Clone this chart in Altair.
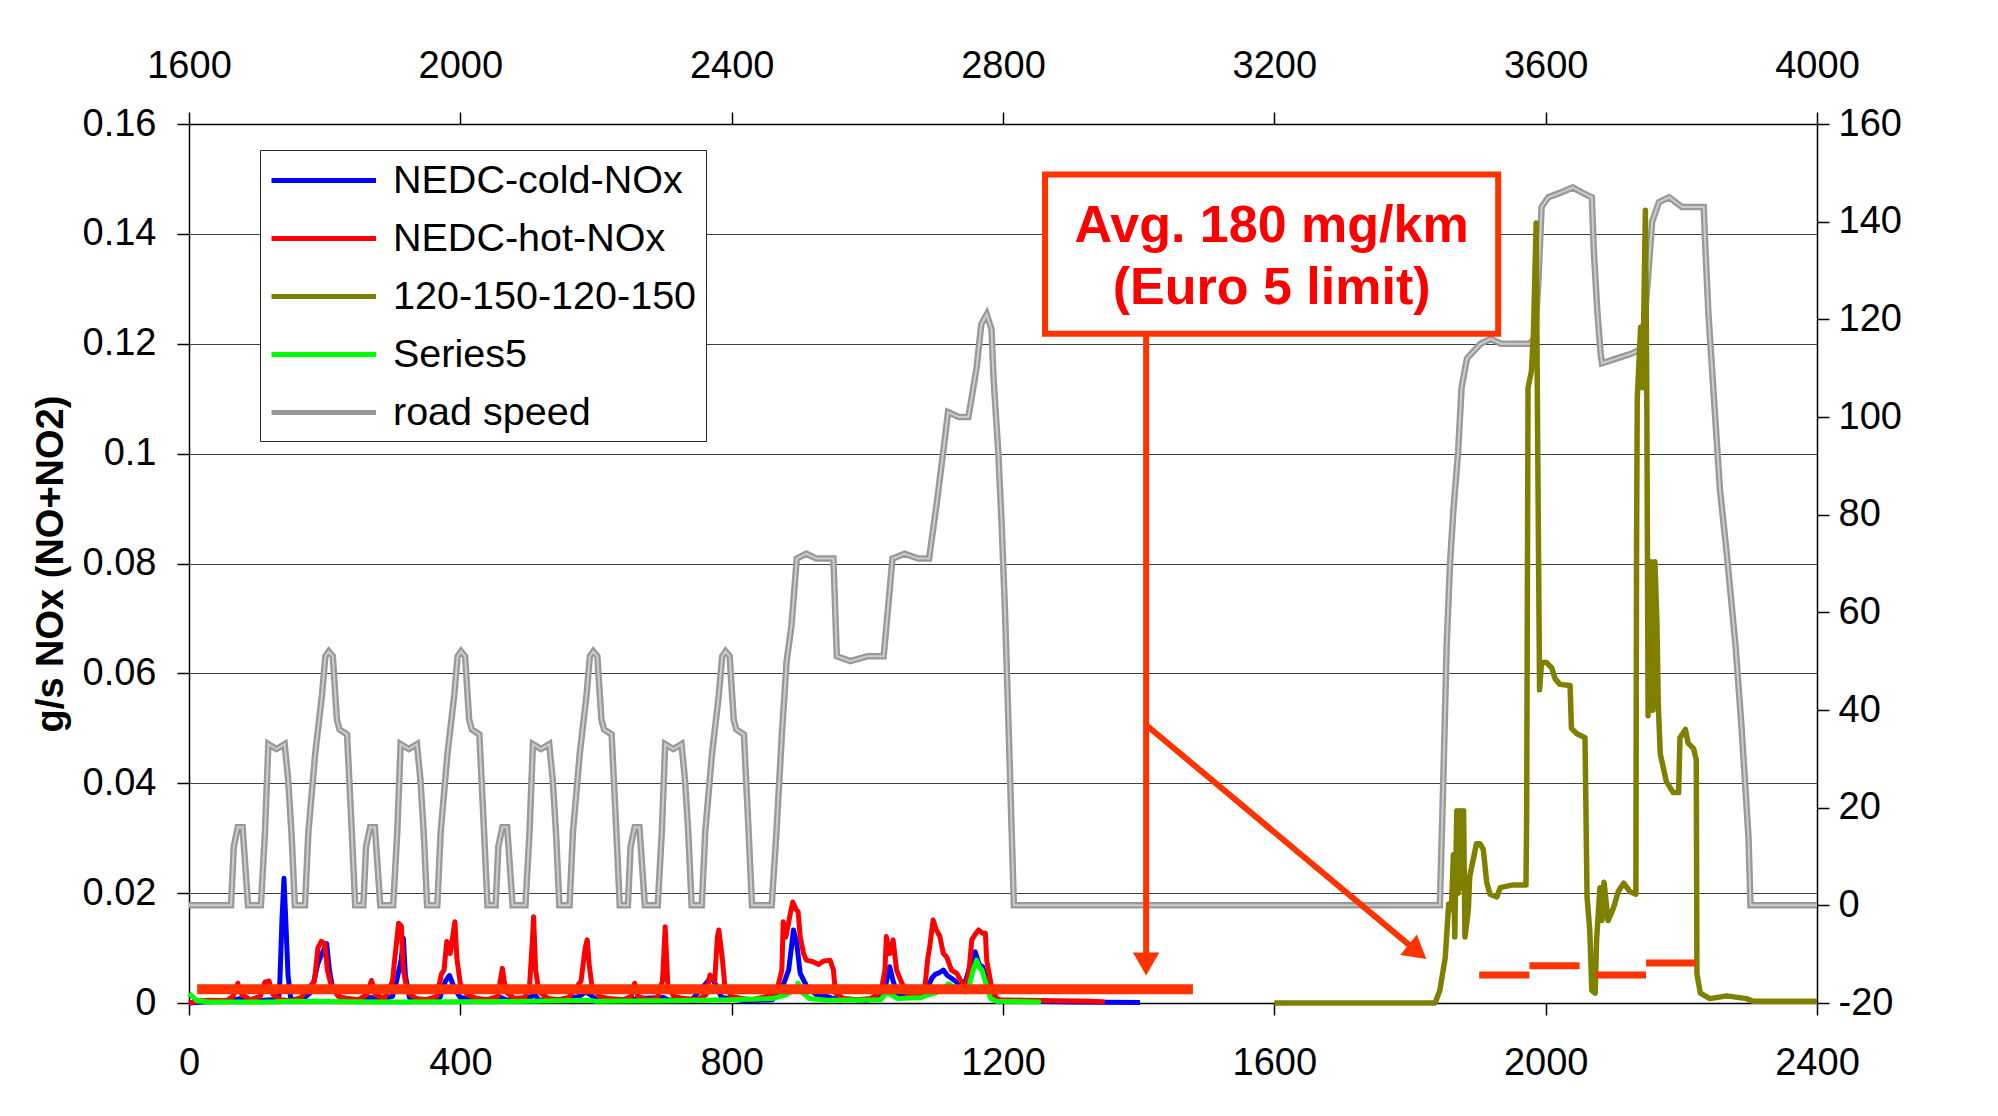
import altair as alt
import pandas as pd

FONT = "Liberation Sans"

# ---------------- series / legend ----------------
series_names = ["NEDC-cold-NOx", "NEDC-hot-NOx", "120-150-120-150", "Series5", "road speed"]
series_colors = ["#0000ff", "#ff0000", "#808000", "#00ff00", "#999999"]
series_widths = [5, 5, 5.5, 5]

# ---------------- axes ----------------
x_ticks = [0, 400, 800, 1200, 1600, 2000, 2400]
top_offset = 1600
nox_ticks = [0, 0.02, 0.04, 0.06, 0.08, 0.1, 0.12, 0.14, 0.16]
speed_ticks = [-20, 0, 20, 40, 60, 80, 100, 120, 140, 160]

# ---------------- road speed (km/h, right axis) ----------------
speed_x = ([0, 62, 66, 72, 79, 83, 87, 106, 112, 117, 129, 141, 146, 151, 156, 171, 176, 186, 196, 201, 206, 212, 218, 222, 233, 239, 245]
           + [257, 261, 267, 274, 278, 282, 301, 307, 312, 324, 336, 341, 346, 351, 366, 371, 381, 391, 396, 401, 407, 413, 417, 428, 434, 440]
           + [452, 456, 462, 469, 473, 477, 496, 502, 507, 519, 531, 536, 541, 546, 561, 566, 576, 586, 591, 596, 602, 608, 612, 623, 629, 635]
           + [647, 651, 657, 664, 668, 672, 691, 697, 702, 714, 726, 731, 736, 741, 756, 761, 771, 781, 786, 791, 797, 803, 807, 818, 824, 830]
           + [859, 866, 874, 881, 888, 896, 910, 925, 950, 955, 975, 1000, 1024, 1030, 1037, 1055, 1075, 1091, 1102, 1112, 1119, 1135, 1149,
              1161, 1168, 1176, 1183, 1186, 1193, 1198, 1203, 1209, 1216]
           + [1844, 1849, 1854, 1859, 1864, 1871, 1876, 1884, 1904, 1919, 1934, 1955, 1976, 1984, 1989, 1994, 2004, 2023, 2040, 2053, 2068,
              2071, 2076, 2081, 2083, 2105, 2127, 2142, 2150, 2157, 2167, 2182, 2201, 2233, 2235, 2240, 2248, 2257, 2267, 2280, 2289, 2299,
              2302, 2400])
speed_kmh = ([0, 0, 12, 16, 16, 8, 0, 0, 15, 33, 32, 33, 26, 15, 0, 0, 15, 31, 43, 51, 52, 51, 38, 36, 35, 18, 0]
             + [0, 12, 16, 16, 8, 0, 0, 15, 33, 32, 33, 26, 15, 0, 0, 15, 31, 43, 51, 52, 51, 38, 36, 35, 18, 0]
             + [0, 12, 16, 16, 8, 0, 0, 15, 33, 32, 33, 26, 15, 0, 0, 15, 31, 43, 51, 52, 51, 38, 36, 35, 18, 0]
             + [0, 12, 16, 16, 8, 0, 0, 15, 33, 32, 33, 26, 15, 0, 0, 15, 31, 43, 51, 52, 51, 38, 36, 35, 18, 0]
             + [0, 15, 35, 50, 57, 71, 72, 71, 71, 51, 50, 51, 51, 60, 71, 72, 71, 71, 82, 93, 101, 100, 100,
                110, 119, 121, 118, 108, 93, 78, 60, 33, 0]
             + [0, 25, 53, 70, 81, 93, 106, 112, 115, 116, 115, 115, 115, 116, 127, 143, 145, 146, 147, 146, 145,
                134, 122, 113, 111, 112, 113, 114, 127, 140, 144, 145, 143, 143, 136, 121, 104, 85, 72, 53, 36, 14,
                0, 0])

# ---------------- NOx (g/s, left axis) ----------------
cold_pts = [(0, 0), (20, 0.0002), (60, 0.0004), (75, 0.0008), (100, 0.0004), (120, 0.0006), (132, 0.0004),
            (134, 0.004), (137, 0.015), (140, 0.0227), (143, 0.014), (146, 0.005), (150, 0.0008), (165, 0.0004),
            (180, 0.002), (186, 0.005), (190, 0.0072), (196, 0.009), (203, 0.0108), (207, 0.006), (212, 0.0025),
            (225, 0.0008), (250, 0.0004), (268, 0.001), (280, 0.0006), (300, 0.0012), (306, 0.004), (313, 0.008),
            (316, 0.0118), (319, 0.005), (325, 0.001), (345, 0.0004), (370, 0.001), (378, 0.004), (384, 0.005),
            (392, 0.0025), (400, 0.001), (430, 0.0004), (460, 0.001), (468, 0.0006), (490, 0.0004), (505, 0.0012),
            (510, 0.0015), (515, 0.0006), (545, 0.0004), (575, 0.0012), (585, 0.002), (592, 0.0015), (600, 0.0006),
            (640, 0.0004), (660, 0.0008), (700, 0.001), (705, 0.0006), (740, 0.0004), (765, 0.004), (770, 0.0048),
            (778, 0.003), (785, 0.001), (820, 0.0004), (860, 0.0006), (875, 0.003), (884, 0.006), (888, 0.01),
            (891, 0.0133), (896, 0.0108), (901, 0.0054), (911, 0.003), (925, 0.0015), (940, 0.0012), (950, 0.0008),
            (1000, 0.0005), (1025, 0.002), (1030, 0.005), (1033, 0.0066), (1038, 0.004), (1045, 0.0015),
            (1060, 0.001), (1080, 0.0012), (1090, 0.003), (1095, 0.0045), (1100, 0.0052), (1106, 0.0055),
            (1112, 0.006), (1118, 0.005), (1124, 0.0045), (1135, 0.0035), (1145, 0.004), (1152, 0.007),
            (1159, 0.0093), (1165, 0.007), (1170, 0.0066), (1176, 0.004), (1185, 0.001), (1200, 0.0004),
            (1300, 0.0002), (1402, 0.0001)]

hot_pts = [(0, 0), (10, 0.0003), (30, 0.0005), (55, 0.0004), (65, 0.0012), (72, 0.0036), (78, 0.0015), (90, 0.0006),
           (105, 0.0012), (112, 0.0038), (118, 0.004), (124, 0.0015), (135, 0.0006), (150, 0.0004), (165, 0.001),
           (178, 0.003), (185, 0.004), (190, 0.01), (195, 0.0112), (200, 0.0108), (204, 0.006), (210, 0.003),
           (220, 0.0012), (235, 0.0008), (250, 0.0006), (262, 0.0015), (269, 0.0041), (275, 0.0015), (288, 0.0008),
           (300, 0.004), (303, 0.0077), (309, 0.0145), (313, 0.014), (316, 0.006), (322, 0.002), (335, 0.0008),
           (350, 0.0006), (365, 0.0012), (372, 0.0052), (376, 0.006), (380, 0.0112), (385, 0.009), (392, 0.0148),
           (395, 0.008), (400, 0.0035), (410, 0.0015), (425, 0.0008), (440, 0.0006), (455, 0.0012), (462, 0.0063),
           (467, 0.002), (480, 0.0008), (495, 0.001), (502, 0.003), (506, 0.011), (508, 0.0157), (511, 0.006),
           (516, 0.002), (530, 0.0008), (545, 0.0006), (560, 0.001), (572, 0.003), (578, 0.004), (584, 0.01),
           (587, 0.0115), (590, 0.007), (594, 0.003), (605, 0.0012), (620, 0.0008), (640, 0.0006), (652, 0.0012),
           (657, 0.0036), (662, 0.0012), (675, 0.0006), (690, 0.0008), (698, 0.004), (702, 0.0139), (706, 0.003),
           (715, 0.0012), (730, 0.0008), (750, 0.0006), (762, 0.0015), (768, 0.0051), (775, 0.004), (779, 0.012),
           (781, 0.0133), (786, 0.0084), (790, 0.003), (800, 0.0012), (815, 0.0008), (830, 0.0006), (845, 0.001),
           (860, 0.0015), (868, 0.003), (874, 0.006), (876, 0.0148), (880, 0.012), (886, 0.016), (890, 0.0184),
           (895, 0.017), (898, 0.0166), (901, 0.0121), (906, 0.009), (910, 0.0078), (920, 0.0075), (928, 0.007),
           (935, 0.0076), (945, 0.0078), (950, 0.006), (953, 0.0018), (965, 0.0008), (985, 0.0006), (1005, 0.0008),
           (1020, 0.002), (1026, 0.006), (1028, 0.0121), (1033, 0.009), (1038, 0.0115), (1043, 0.006),
           (1051, 0.0036), (1060, 0.0015), (1075, 0.001), (1085, 0.003), (1089, 0.008), (1092, 0.0103),
           (1097, 0.0151), (1101, 0.0135), (1107, 0.0121), (1112, 0.009), (1117, 0.0084), (1124, 0.006),
           (1132, 0.0054), (1137, 0.0042), (1145, 0.0025), (1150, 0.006), (1154, 0.0115), (1159, 0.0125),
           (1164, 0.0133), (1170, 0.0127), (1174, 0.0127), (1176, 0.0078), (1183, 0.003), (1191, 0.0006),
           (1230, 0.0005), (1280, 0.0004), (1330, 0.0003), (1350, 0.0002)]

motor_pts = [(1600, 0), (1837, 0), (1844, 0.0023), (1852, 0.0083), (1857, 0.018), (1861, 0.017), (1864, 0.027),
             (1866, 0.012), (1869, 0.035), (1871, 0.02), (1874, 0.035), (1876, 0.021), (1879, 0.035), (1881, 0.012),
             (1886, 0.017), (1888, 0.023), (1893, 0.026), (1898, 0.029), (1903, 0.029), (1908, 0.028), (1913, 0.022),
             (1918, 0.0198), (1928, 0.0193), (1933, 0.021), (1952, 0.0215), (1971, 0.0215), (1972, 0.035),
             (1974, 0.112), (1979, 0.115), (1982, 0.122), (1986, 0.142), (1988, 0.106), (1991, 0.057), (1994, 0.062),
             (2001, 0.062), (2009, 0.061), (2014, 0.059), (2021, 0.058), (2036, 0.0578), (2038, 0.05), (2046, 0.049),
             (2058, 0.0483), (2061, 0.0193), (2065, 0.0133), (2068, 0.0023), (2073, 0.0018), (2075, 0.0113),
             (2080, 0.021), (2083, 0.015), (2086, 0.022), (2092, 0.015), (2100, 0.0173), (2107, 0.0203),
             (2115, 0.0218), (2124, 0.0203), (2133, 0.0198), (2134, 0.0833), (2135, 0.11), (2140, 0.123),
             (2143, 0.112), (2147, 0.1443), (2149, 0.113), (2151, 0.0523), (2155, 0.0803), (2158, 0.0533),
             (2161, 0.0803), (2164, 0.0693), (2166, 0.0543), (2169, 0.0453), (2178, 0.0403), (2188, 0.0383),
             (2196, 0.0383), (2198, 0.0483), (2206, 0.0498), (2210, 0.0473), (2218, 0.0463), (2222, 0.0443),
             (2223, 0.0053), (2228, 0.0018), (2242, 0.0008), (2267, 0.0013), (2296, 0.0008), (2306, 0.0003),
             (2400, 0.0003)]

s5_pts = [(0, 0.0017), (5, 0.0012), (12, 0.0004), (30, 0.0002), (120, 0.0002), (150, 0.0003), (300, 0.0002),
          (500, 0.0003), (590, 0.0005), (600, 0.0003), (700, 0.0004), (760, 0.0005), (800, 0.0006), (860, 0.0008),
          (880, 0.0015), (893, 0.0025), (898, 0.0036), (903, 0.002), (915, 0.0008), (940, 0.0005), (1020, 0.0006),
          (1028, 0.002), (1035, 0.0015), (1045, 0.0008), (1080, 0.001), (1090, 0.0015), (1100, 0.0018),
          (1110, 0.0025), (1120, 0.0035), (1130, 0.0025), (1145, 0.002), (1150, 0.003), (1155, 0.0055),
          (1161, 0.0078), (1165, 0.0065), (1169, 0.006), (1176, 0.003), (1182, 0.0008), (1190, 0.0003),
          (1256, 0.0002)]

# ---------------- annotation ----------------
avg_x1, avg_x2, avg_nox = [12], [1480], [0.0025]
seg_x1 = [1902, 1976, 2074, 2148]
seg_x2 = [1976, 2050, 2148, 2221]
seg_nox = [0.0051, 0.0068, 0.0051, 0.0073]
box_x1, box_x2, box_nox1, box_nox2 = [1262], [1930], [0.1218], [0.1508]
note_lines = ["Avg. 180 mg/km", "(Euro 5 limit)"]
note_x = [1596, 1596]
note_nox = [0.1415, 0.1302]
arrow_x1 = [1411, 1411]
arrow_nox1 = [0.1218, 0.0506]
arrow_x2 = [1411, 1811]
arrow_nox2 = [0.0071, 0.0093]
head_shape = ["triangle-down", "triangle-right"]
head_angle = [0, 39]

ORANGE = "#ff3300"

# ---------------- tables ----------------
def series_frame(name, pts):
    df = pd.DataFrame({"x": [p[0] for p in pts], "nox": [p[1] for p in pts], "series": name})
    df["order"] = range(len(df))
    return df

nox_frames = [series_frame(series_names[0], cold_pts),
              series_frame(series_names[1], hot_pts),
              series_frame(series_names[2], motor_pts),
              series_frame(series_names[3], s5_pts)]

speed_df = pd.DataFrame({"x": speed_x, "kmh": speed_kmh, "series": series_names[4]})
speed_df["order"] = range(len(speed_df))

avg_df = pd.DataFrame({"x": avg_x1, "x2": avg_x2, "nox": avg_nox})
seg_df = pd.DataFrame({"x": seg_x1, "x2": seg_x2, "nox": seg_nox})
box_df = pd.DataFrame({"x": box_x1, "x2": box_x2, "nox": box_nox1, "nox2": box_nox2})
note_df = pd.DataFrame({"x": note_x, "nox": note_nox, "label": note_lines})
arrow_df = pd.DataFrame({"x": arrow_x1, "x2": arrow_x2, "nox": arrow_nox1, "nox2": arrow_nox2})
head_df = pd.DataFrame({"x": arrow_x2, "nox": arrow_nox2, "shape": head_shape, "angle": head_angle})

# ---------------- encodings ----------------
xscale = alt.Scale(domain=[0, 2400], nice=False, zero=False)
x_bottom = alt.X("x:Q", scale=xscale,
                 axis=alt.Axis(orient="bottom", values=x_ticks, labelExpr="'' + datum.value",
                               labelPadding=29, grid=False, title=None, labelFlush=False))
x_top = alt.X("x:Q", scale=xscale,
              axis=alt.Axis(orient="top", values=x_ticks, labelExpr=f"'' + (datum.value + {top_offset})",
                            labelPadding=27, grid=False, title=None, labelFlush=False))
y_left = alt.Y("nox:Q", scale=alt.Scale(domain=[0, 0.16], nice=False),
               axis=alt.Axis(orient="left", values=nox_ticks, labelExpr="'' + datum.value", labelPadding=21,
                             grid=True, title="g/s NOx (NO+NO2)", titleFontSize=38, titleFontWeight="bold",
                             titlePadding=12))
y_right = alt.Y("kmh:Q", scale=alt.Scale(domain=[-20, 160], nice=False, zero=False),
                axis=alt.Axis(orient="right", values=speed_ticks, labelExpr="'' + datum.value", labelPadding=9,
                              grid=False, title=None))

legend = alt.Legend(title=None, orient="none", legendX=71, legendY=26, fillColor="white", strokeColor="#222222",
                    padding=9, labelFont=FONT, labelFontSize=39.5, labelColor="black", labelLimit=500,
                    symbolType="M-1,0H4.5", symbolSize=1444, symbolStrokeWidth=5, labelOffset=81,
                    rowPadding=17, symbolOpacity=1)
color_enc = alt.Color("series:N", scale=alt.Scale(domain=series_names, range=series_colors),
                      sort=series_names, legend=legend)

# ---------------- layers ----------------
speed_base = alt.Chart(speed_df)
speed_outer = speed_base.mark_line(strokeWidth=6.5, color="#969696").encode(
    x=x_top, y=y_right, color=color_enc, order="order:Q")
speed_inner = speed_base.mark_line(strokeWidth=2, color="#cccccc").encode(
    x=x_top, y=y_right, order="order:Q")
right_group = alt.layer(speed_outer, speed_inner)

nox_layers = [alt.Chart(df).mark_line(strokeWidth=w, strokeJoin="round").encode(
    x=x_bottom, y=y_left, color=color_enc, order="order:Q")
    for df, w in zip(nox_frames, series_widths)]

avg_rule = alt.Chart(avg_df).mark_rule(color=ORANGE, strokeWidth=10).encode(
    x=x_bottom, x2=alt.X2("x2"), y=y_left)
seg_rules = alt.Chart(seg_df).mark_rule(color=ORANGE, strokeWidth=7).encode(
    x=x_bottom, x2=alt.X2("x2"), y=y_left)
box = alt.Chart(box_df).mark_rect(fill="white", stroke=ORANGE, strokeWidth=6).encode(
    x=x_bottom, x2=alt.X2("x2"), y=y_left, y2=alt.Y2("nox2"))
notes = alt.Chart(note_df).mark_text(font=FONT, fontSize=52, fontWeight="bold", color="#ff0000",
                                     align="center", baseline="middle").encode(
    x=x_bottom, y=y_left, text="label:N")
arrows = alt.Chart(arrow_df).mark_rule(color=ORANGE, strokeWidth=6).encode(
    x=x_bottom, x2=alt.X2("x2"), y=y_left, y2=alt.Y2("nox2"))
heads = alt.Chart(head_df).mark_point(filled=True, color=ORANGE, size=700, opacity=1).encode(
    x=x_bottom, y=y_left, shape=alt.Shape("shape:N", scale=None),
    angle=alt.Angle("angle:Q", scale=None))
left_group = alt.layer(*nox_layers, avg_rule, seg_rules, box, notes, arrows, heads)

chart = alt.layer(right_group, left_group).resolve_scale(
    y="independent"
).resolve_axis(
    x="independent", y="independent"
).properties(
    width=1628, height=879,
    padding={"left": 189, "top": 124, "right": 181, "bottom": 113},
    autosize=alt.AutoSizeParams(type="none"),
    background="white",
).configure_view(
    stroke=None
).configure_axis(
    labelFont=FONT, titleFont=FONT, labelFontSize=38, labelColor="black", titleColor="black",
    tickColor="black", tickSize=12, tickWidth=1.5, domainColor="black", domainWidth=1.5,
    gridColor="#404040", gridWidth=1.2
)

chart.save("out.html", embed_options={"renderer": "svg", "actions": False})
